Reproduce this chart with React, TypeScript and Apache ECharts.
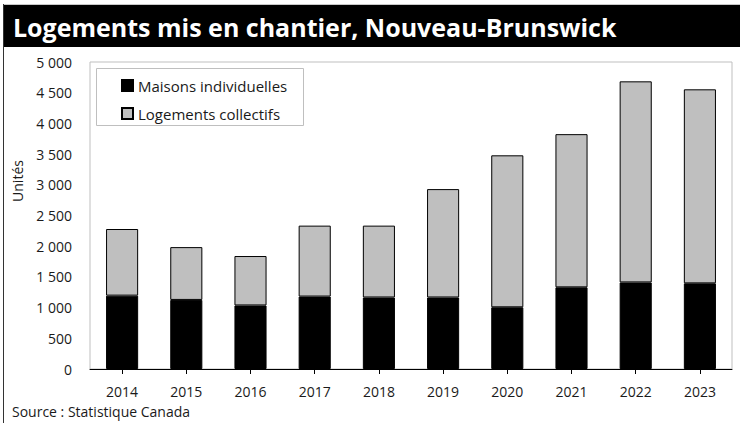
import React, { useEffect, useRef } from "react";
import * as echarts from "echarts";

const years = ["2014", "2015", "2016", "2017", "2018", "2019", "2020", "2021", "2022", "2023"];
const maisons = [1195, 1125, 1035, 1180, 1165, 1165, 1005, 1330, 1410, 1395];
const collectifs = [1085, 860, 805, 1155, 1170, 1765, 2475, 2495, 3275, 3160];
const seriesNames = ["Maisons individuelles", "Logements collectifs"];
const titleText = "Logements mis en chantier, Nouveau-Brunswick";
const sourceText = "Source : Statistique Canada";
const yAxisName = "Unités";

const FONT = "'Open Sans', 'Noto Sans', sans-serif";

export default function App() {
  const ref = useRef<HTMLDivElement>(null);
  useEffect(() => {
    if (!ref.current) return;
    const chart = echarts.init(ref.current, undefined, { renderer: "svg" });
    chart.setOption({
      animation: false,
      backgroundColor: "#ffffff",
      textStyle: { fontFamily: FONT },
      grid: {
        left: 90,
        right: 8,
        top: 62,
        bottom: 54,
        show: true,
        borderColor: "#bfbfbf",
        borderWidth: 1,
        backgroundColor: "transparent",
      },
      legend: {
        orient: "vertical",
        left: 116,
        top: 73,
        itemWidth: 11,
        itemHeight: 11,
        itemGap: 13,
        icon: "rect",
        textStyle: { fontSize: 15, color: "#1a1a1a", fontFamily: FONT },
        data: seriesNames,
      },
      xAxis: {
        type: "category",
        data: years,
        axisLine: { lineStyle: { color: "#000", width: 1 } },
        axisTick: { show: true, alignWithLabel: true, length: 5, lineStyle: { color: "#000" } },
        axisLabel: { fontSize: 14, color: "#1a1a1a", margin: 15, fontFamily: FONT },
      },
      yAxis: {
        type: "value",
        min: 0,
        max: 5000,
        interval: 500,
        axisLine: { show: false },
        axisTick: { show: false },
        splitLine: { show: false },
        axisLabel: {
          fontSize: 14,
          color: "#1a1a1a",
          margin: 18,
          fontFamily: FONT,
          formatter: (v: number) => {
            const s = String(v);
            return s.length > 3 ? s.slice(0, s.length - 3) + " " + s.slice(-3) : s;
          },
        },
      },
      series: [
        {
          name: seriesNames[0],
          type: "bar",
          stack: "total",
          barWidth: "50%",
          data: maisons,
          itemStyle: { color: "#000000", borderColor: "#000000", borderWidth: 1 },
        },
        {
          name: seriesNames[1],
          type: "bar",
          stack: "total",
          barWidth: "50%",
          data: collectifs,
          itemStyle: { color: "#bfbfbf", borderColor: "#000000", borderWidth: 1 },
        },
      ],
      graphic: [
        { type: "line", shape: { x1: 3, y1: 4.5, x2: 740, y2: 4.5 }, style: { stroke: "#c8c8c8", lineWidth: 1 } },
        { type: "rect", shape: { x: 3, y: 5, width: 737, height: 42 }, style: { fill: "#000" } },
        { type: "line", shape: { x1: 3.5, y1: 4, x2: 3.5, y2: 423 }, style: { stroke: "#333", lineWidth: 1 } },
        {
          type: "text",
          x: 13,
          y: 27,
          style: {
            text: titleText,
            fill: "#fff",
            font: `bold 25px ${FONT}`,
            verticalAlign: "middle",
            textAlign: "left",
          },
        },
        {
          type: "rect",
          z: -1,
          shape: { x: 96.5, y: 68.5, width: 207, height: 57 },
          style: { fill: "#fff", stroke: "#bfbfbf", lineWidth: 1 },
        },
        {
          type: "text",
          x: 17,
          y: 181,
          rotation: Math.PI / 2,
          style: {
            text: yAxisName,
            fill: "#1a1a1a",
            font: `14px ${FONT}`,
            verticalAlign: "middle",
            textAlign: "center",
          },
        },
        {
          type: "text",
          x: 12,
          y: 411,
          style: {
            text: sourceText,
            fill: "#1a1a1a",
            font: `14px ${FONT}`,
            verticalAlign: "middle",
            textAlign: "left",
          },
        },
      ],
    });
    return () => chart.dispose();
  }, []);
  return <div ref={ref} style={{ position: "fixed", left: 0, top: 0, width: 740, height: 423 }} />;
}
